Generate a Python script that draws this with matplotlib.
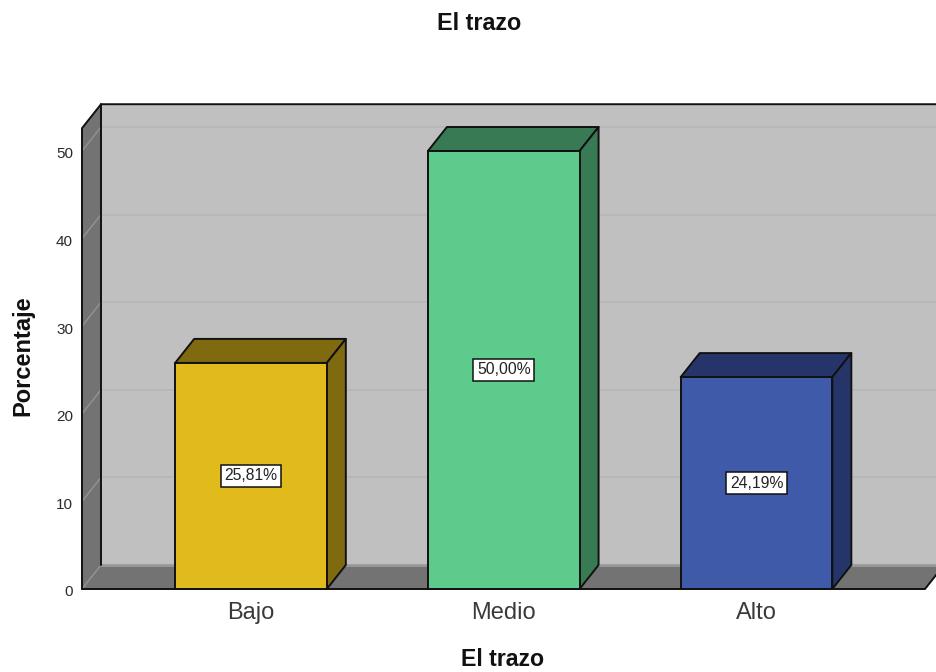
import matplotlib
matplotlib.use("Agg")
import matplotlib.pyplot as plt
from matplotlib.patches import Polygon
from matplotlib.transforms import ScaledTranslation

plt.rcParams['font.family'] = ['Liberation Sans', 'DejaVu Sans']

categories = ["Bajo", "Medio", "Alto"]
values = [25.81, 50.00, 24.19]
value_labels = ["25,81%", "50,00%", "24,19%"]
y_ticks = [0, 10, 20, 30, 40, 50]
face_colors = ["#E1BA1C", "#5DCB8C", "#3F5AA8"]
depth_colors = ["#7F6A10", "#387A54", "#25356A"]
title = "El trazo"
x_title = "El trazo"
y_title = "Porcentaje"

W, H = 936, 672
fig = plt.figure(figsize=(W / 100, H / 100), dpi=100, facecolor="white")

# pixel layout of the front plane
left, right, base, per_unit = 82, 925, 589, 8.76
y_front_top = 52.6
spacing, center0 = 252.75, 251
ax = fig.add_axes([left / W, 1 - base / H, (right - left) / W,
                   y_front_top * per_unit / H])
ax.set_ylim(0, y_front_top)
ax.set_xlim((left - center0) / spacing, (right - center0) / spacing)
ax.patch.set_visible(False)
for s in ax.spines.values():
    s.set_visible(False)

dx = 19 / spacing
dy = 24 / per_unit
x0, x1 = ax.get_xlim()
ink = "#111111"


def poly(pts, fc, ec="none", lw=0, z=1):
    ax.add_patch(Polygon(pts, closed=True, fc=fc, ec=ec, lw=lw, zorder=z,
                         clip_on=False, joinstyle="round"))


def line(xs, ys, c=ink, lw=1.4, z=2):
    ax.plot(xs, ys, color=c, lw=lw, zorder=z, clip_on=False,
            solid_capstyle="round")


# walls and floor
poly([(x0 + dx, dy), (x1 + dx, dy), (x1 + dx, y_front_top + dy), (x0 + dx, y_front_top + dy)], "#C0C0C0", z=1)
poly([(x0, 0), (x0 + dx, dy), (x0 + dx, y_front_top + dy), (x0, y_front_top)], "#737373", z=1)
poly([(x0, 0), (x1, 0), (x1 + dx, dy), (x0 + dx, dy)], "#737373", z=1)
line([x0 + dx, x1 + dx], [dy, dy], c="#9A9A9A", lw=2.0, z=1.5)
for t in y_ticks:
    if t > 0:
        line([x0 + dx, x1 + dx], [t + dy, t + dy], c="#B6B6B6", lw=1.2, z=1.5)
    line([x0, x0 + dx], [t, t + dy], c="#939393", lw=1.0, z=1.5)
line([x0, x0, x0 + dx, x1 + dx], [0, y_front_top, y_front_top + dy, y_front_top + dy], z=2)
line([x0 + dx, x0 + dx], [dy, y_front_top + dy], z=2)
line([x0, x1, x1 + dx], [0, 0, dy], z=2)

# bars
xpos = list(range(len(categories)))
bw = 0.6
ax.bar(xpos, values, width=bw, color=face_colors, edgecolor=ink, linewidth=1.4,
       zorder=4, clip_on=False)
for x, v, dc, lab in zip(xpos, values, depth_colors, value_labels):
    a, b = x - bw / 2, x + bw / 2
    poly([(a, v), (b, v), (b + dx, v + dy), (a + dx, v + dy)], dc, ink, 1.4, z=3)
    poly([(b, 0), (b + dx, dy), (b + dx, v + dy), (b, v)], dc, ink, 1.4, z=3)
    ax.text(x, v / 2, lab, ha="center", va="center", fontsize=11.3, color="#222222", zorder=6,
            bbox=dict(boxstyle="square,pad=0.24", fc="white", ec=ink, lw=1.1))

# axes text
ax.set_yticks(y_ticks)
ax.tick_params(axis="y", length=0, pad=6.5, labelsize=11, labelcolor="#2A2A2A")
shift = ScaledTranslation(0, -2 / 100, fig.dpi_scale_trans)
for lab in ax.get_yticklabels():
    lab.set_transform(lab.get_transform() + shift)
ax.set_xticks(xpos)
ax.set_xticklabels(categories)
ax.tick_params(axis="x", length=0, pad=9.5, labelsize=17, labelcolor="#3A3A3A")

fig.text(479 / W, 1 - 23 / H, title, ha="center", va="center", fontsize=16.8, fontweight="bold", color="#111111")
fig.text(503 / W, 1 - 659 / H, x_title, ha="center", va="center", fontsize=16.7, fontweight="bold", color="#111111")
fig.text(23 / W, 1 - 356 / H, y_title, ha="center", va="center", rotation=90, fontsize=17, fontweight="bold", color="#111111")

fig.savefig("out.png", dpi=100, facecolor="white")
